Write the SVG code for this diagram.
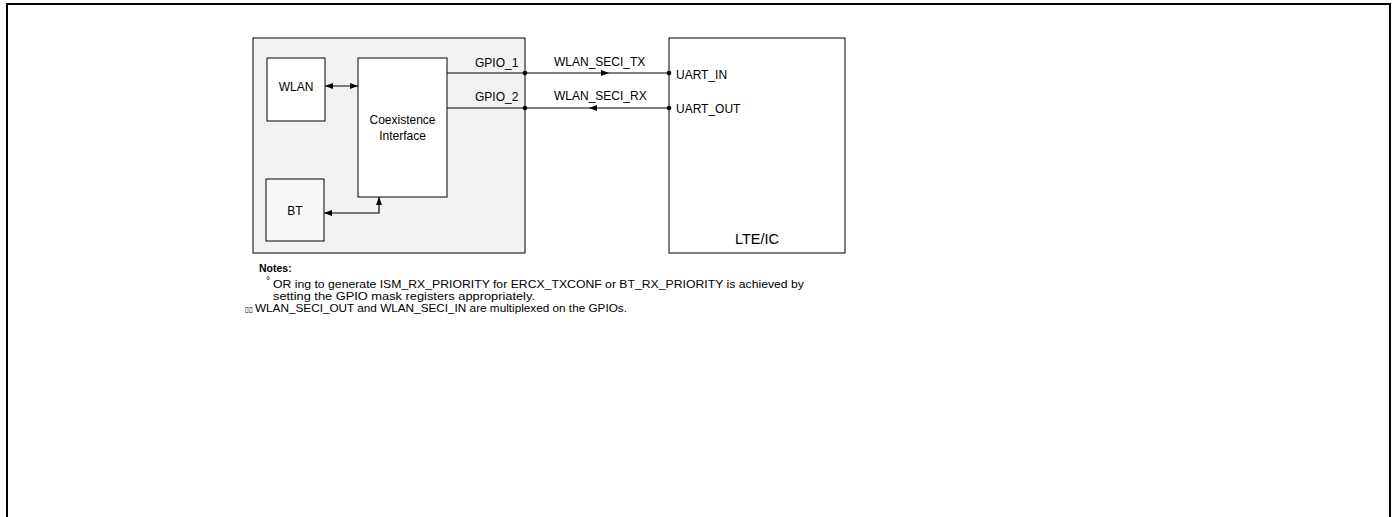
<svg xmlns="http://www.w3.org/2000/svg" width="1392" height="517" viewBox="0 0 1392 517">
<style>
.box{stroke:#000;stroke-width:1;fill:#fff}
.t{font-family:"Liberation Sans",Arial,sans-serif;font-size:12px;fill:#000}
.n{font-family:"Liberation Sans",Arial,sans-serif;font-size:10.5px;fill:#000}
.w{stroke:#000;stroke-width:1.2;fill:none}
</style>
<defs>
<marker id="ah" viewBox="0 0 8 6" refX="8" refY="3" markerWidth="8" markerHeight="6" markerUnits="userSpaceOnUse" orient="auto-start-reverse">
<path d="M0,0 L8,3 L0,6 z" fill="#000"/>
</marker>
</defs>
<rect width="1392" height="517" fill="#fff"/>
<path d="M7,517 V4 H1390 V517" fill="none" stroke="#000" stroke-width="2"/>
<g id="chip">
<rect x="253" y="38" width="272" height="215" fill="#f2f2f2" stroke="#000" stroke-width="1"/>
</g>
<g id="wlan">
<rect class="box" x="267" y="58" width="58" height="63"/>
<text class="t" x="296" y="91" text-anchor="middle">WLAN</text>
</g>
<g id="coex">
<rect class="box" x="358" y="58" width="89" height="139"/>
<text class="t" x="402.5" y="124" text-anchor="middle" font-size="12.5">Coexistence</text>
<text class="t" x="402.5" y="140" text-anchor="middle" font-size="12.5">Interface</text>
</g>
<g id="bt">
<rect x="266" y="179" width="58" height="62" fill="#f8f8f8" stroke="#000" stroke-width="1"/>
<text class="t" x="295" y="215" text-anchor="middle">BT</text>
</g>
<g id="lte">
<rect class="box" x="669" y="38" width="176" height="215"/>
<text x="757" y="244" text-anchor="middle" font-family="Liberation Sans, Arial, sans-serif" font-size="14.5">LTE/IC</text>
<text class="t" x="676" y="79">UART_IN</text>
<text class="t" x="676" y="113">UART_OUT</text>
</g>
<g id="connectors">
<line class="w" x1="325" y1="86" x2="358" y2="86" marker-start="url(#ah)" marker-end="url(#ah)"/>
<polyline class="w" points="324,213 379,213 379,197" marker-start="url(#ah)" marker-end="url(#ah)"/>
<line class="w" x1="447" y1="73" x2="669" y2="73"/>
<line class="w" x1="447" y1="108" x2="669" y2="108"/>
<path d="M601,70 L609,73 L601,76 z" fill="#000"/>
<path d="M597,105 L589,108 L597,111 z" fill="#000"/>
<circle cx="525" cy="73" r="2.3" fill="#000"/>
<circle cx="525" cy="108" r="2.3" fill="#000"/>
<circle cx="669" cy="73" r="2.3" fill="#000"/>
<circle cx="669" cy="108" r="2.3" fill="#000"/>
<text class="t" x="475" y="67">GPIO_1</text>
<text class="t" x="475" y="101">GPIO_2</text>
<text class="t" x="554" y="66">WLAN_SECI_TX</text>
<text class="t" x="554" y="100">WLAN_SECI_RX</text>
</g>
<g id="notes">
<text class="n" x="259" y="272" font-weight="bold">Notes:</text>
<text class="n" x="266" y="284" font-size="8">°</text>
<text class="n" x="273" y="288" textLength="531" lengthAdjust="spacingAndGlyphs">OR ing to generate ISM_RX_PRIORITY for ERCX_TXCONF or BT_RX_PRIORITY is achieved by</text>
<text class="n" x="273" y="300" textLength="262" lengthAdjust="spacingAndGlyphs">setting the GPIO mask registers appropriately.</text>
<text x="245" y="312" font-family="DejaVu Sans, sans-serif" font-size="8" textLength="8" lengthAdjust="spacingAndGlyphs">▯▯</text>
<text class="n" x="255" y="312" textLength="372" lengthAdjust="spacingAndGlyphs">WLAN_SECI_OUT and WLAN_SECI_IN are multiplexed on the GPIOs.</text>
</g>
</svg>
